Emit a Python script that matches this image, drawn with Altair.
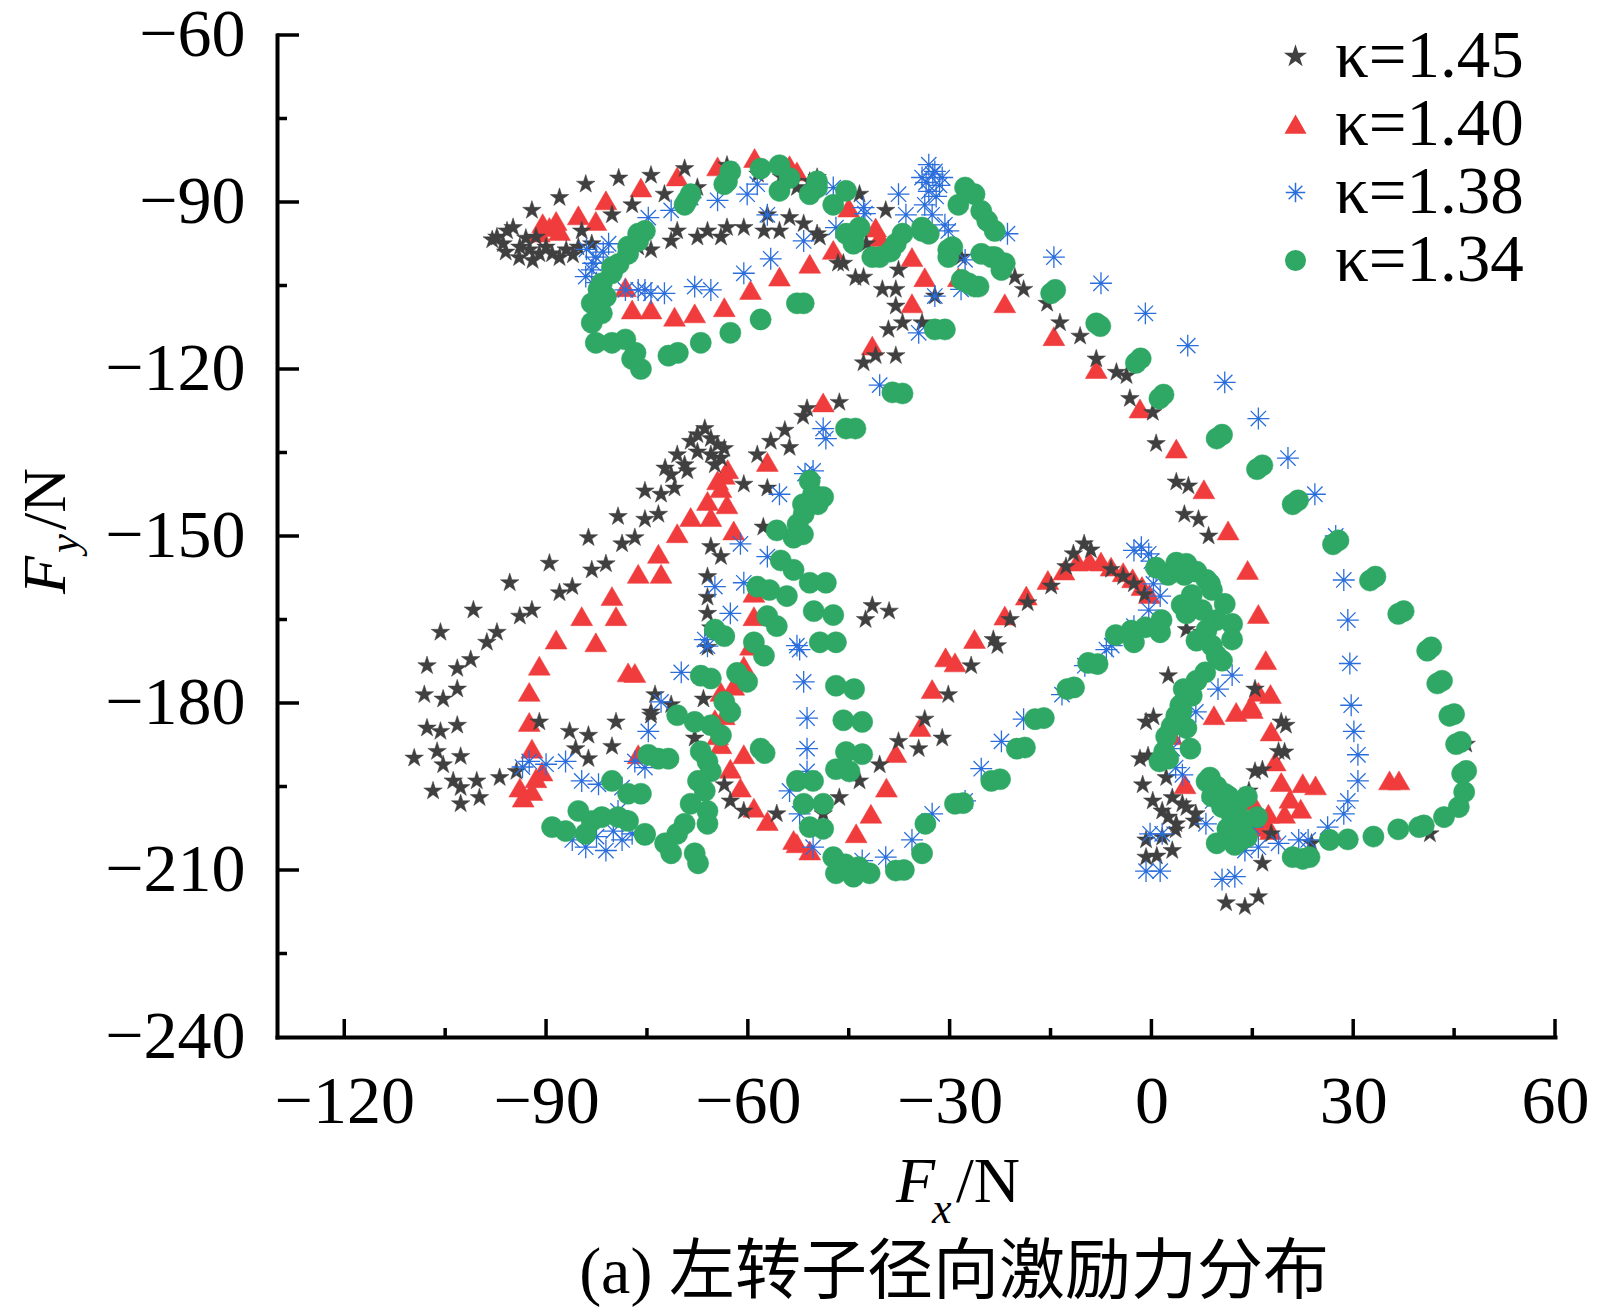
import altair as alt
import pandas as pd

LABELS = ["κ=1.45", "κ=1.40", "κ=1.38", "κ=1.34"]
COLORS = ["#404040", "#f03c3c", "#2a6edc", "#2ea864"]
STAR = ("M0,-1L0.225,-0.309L0.951,-0.309L0.363,0.118L0.588,0.809L0,0.382"
        "L-0.588,0.809L-0.363,0.118L-0.951,-0.309L-0.225,-0.309Z")
ASTERISK = "M-1,0L1,0M0,-1L0,1M-0.7,-0.7L0.7,0.7M-0.7,0.7L0.7,-0.7"
SHAPES = [STAR, "triangle-up", ASTERISK, "circle"]

X_MAJOR = [-120, -90, -60, -30, 0, 30, 60]
X_MINOR = [-105, -75, -45, -15, 15, 45]
Y_LABELS = [-60, -90, -120, -150, -180, -210, -240]
Y_MAJOR = [-60, -90, -120, -150, -180, -210]
Y_MINOR = [-75, -105, -135, -165, -195, -225]

K145 = [(-97.3,-96.3),(-95.8,-95.2),(-94.9,-94.6),(-96.4,-97.5),(-93.9,-98.1),(-92.5,-98.6),(-91.0,-99.3),(-90.0,-98.1),(-89.1,-99.3),(-87.0,-98.6),(-85.2,-98.1),(-83.2,-97.5),(-91.5,-96.3),(-98.0,-96.8),(-96.0,-99.0),(-94.0,-100.0),(-92.0,-100.5),(-88.0,-100.0),(-86.0,-99.5),(-93.0,-96.5),
(-88.0,-89.2),(-92.1,-91.5),(-84.1,-86.8),(-79.2,-85.7),(-74.4,-85.2),(-69.4,-84.0),(-63.1,-83.4),(-58.5,-85.0),(-55.0,-85.5),(-53.2,-86.3),(-50.8,-86.3),(-49.7,-85.6),(-52.7,-87.4),(-43.4,-88.6),(-39.5,-91.5),
(-72.4,-88.6),(-77.2,-90.5),(-67.5,-87.4),(-80.2,-92.3),(-84.7,-95.2),(-74.4,-98.6),(-76.3,-98.1),(-71.4,-97.0),(-70.5,-95.2),(-67.5,-96.3),(-66.0,-95.2),(-64.0,-96.3),(-63.1,-94.6),(-60.6,-94.6),(-57.6,-95.2),(-55.3,-95.2),(-57.1,-92.3),(-53.8,-92.8),(-51.7,-93.9),(-49.7,-95.7),(-49.3,-96.3),
(-42.4,-97.5),(-45.8,-101.0),(-46.6,-101.0),(-42.8,-103.5),(-44.0,-103.6),(-37.6,-102.2),(-40.0,-105.7),(-38.0,-105.7),(-38.0,-108.7),(-34.1,-111.7),(-37.0,-111.7),(-39.1,-112.9),(-38.0,-117.6),(-41.0,-117.6),(-42.8,-118.9),(-46.4,-126.0),(-51.2,-127.1),(-51.8,-128.5),(-54.5,-131.0),(-32.2,-106.9),(-28.3,-99.9),
(-20.3,-103.5),(-19.0,-105.7),(-15.5,-108.2),(-13.6,-111.7),(-10.6,-114.1),(-8.2,-118.2),(-5.2,-120.6),(-3.7,-121.2),(-3.2,-125.3),(0.2,-127.8),(0.7,-133.4),(3.7,-140.3),(5.5,-141.0),(4.9,-146.1),(7.0,-147.0),(8.5,-150.0),
(-66.4,-130.7),(-67.5,-131.8),(-65.5,-132.5),(-64.5,-133.6),(-68.5,-133.0),(-67.5,-134.9),(-65.5,-135.4),(-64.0,-136.0),(-70.5,-135.4),(-69.4,-137.2),(-71.4,-139.0),(-72.3,-137.8),(-69.0,-138.3),(-70.9,-141.4),(-72.9,-142.5),(-75.3,-141.9),(-64.9,-137.2),(-63.5,-134.3),
(-73.3,-146.1),(-75.3,-147.0),(-76.8,-150.3),(-78.7,-151.4),(-79.3,-146.5),(-81.1,-155.0),(-83.2,-156.1),(-83.7,-150.3),(-86.1,-159.1),(-88.0,-160.2),(-89.5,-154.9),(-92.1,-163.3),(-93.9,-164.4),(-95.4,-158.4),(-97.3,-167.3),(-98.8,-169.1),(-100.8,-163.3),(-101.2,-172.2),(-103.2,-173.8),(-105.7,-167.3),(-107.7,-173.3),(-103.2,-177.5),(-105.3,-179.3),(-108.1,-178.5),(-107.7,-184.5),(-105.7,-185.1),(-103.2,-184.0),(-109.6,-189.9),(-106.2,-188.7),(-105.3,-191.1),(-102.7,-189.6),(-103.8,-194.0),(-102.7,-195.2),(-106.8,-195.8),(-102.7,-198.1),(-100.3,-194.0),(-99.9,-197.0),(-96.9,-193.4),(-94.4,-192.3),(-91.0,-183.4),(-86.5,-185.1),(-83.7,-185.8),(-85.6,-188.2),(-83.7,-190.0),(-80.2,-187.8),(-79.6,-183.4),(-74.4,-181.6),(-73.8,-178.5),(-71.4,-180.3),
(-60.6,-140.7),(-57.1,-141.4),(-58.6,-135.4),(-56.6,-133.0),(-53.8,-134.1),(-57.7,-148.4),(-65.5,-151.9),(-64.0,-153.7),(-66.0,-157.3),(-66.0,-161.0),(-66.0,-163.9),(-65.5,-166.5),(-66.0,-170.0),(-66.6,-179.3),(-74.4,-182.2),(-67.9,-186.3),(-63.5,-194.7),(-62.6,-197.6),(-60.6,-199.4),(-55.7,-199.9),(-48.8,-199.9),(-46.4,-197.0),(-43.4,-194.0),(-40.4,-191.1),(-37.6,-186.9),(-34.6,-188.2),(-33.7,-182.9),(-31.1,-186.3),(-30.2,-178.5),(-26.8,-173.3),(-23.5,-168.6),(-22.9,-169.7),(-21.0,-165.0),(-18.4,-162.0),(-14.9,-159.0),(-12.7,-155.5),(-11.6,-153.2),(-10.0,-151.4),(-9.0,-152.5),
(-41.5,-162.5),(-39.0,-163.5),(-42.5,-165.0),
(-6.0,-156.0),(-4.2,-157.3),(-2.6,-158.6),(-1.0,-160.5),
(-0.8,-183.4),(0.3,-182.5),(-1.7,-190.0),(-0.5,-189.5),(-1.3,-194.7),(2.2,-193.4),(0.2,-197.6),(1.6,-199.4),(3.7,-201.7),(4.6,-198.1),(6.6,-199.9),(3.1,-197.0),(-0.8,-204.6),(1.6,-204.1),(-0.8,-207.7),(0.8,-207.5),(3.1,-206.5),(2.5,-200.5),(5.2,-198.8),(6.4,-201.2),(3.6,-202.8),(2.5,-175.1),(5.2,-166.8),(7.5,-167.3),
(11.1,-215.9),(13.9,-216.6),(15.9,-214.8),(14.5,-195.8),(15.4,-192.3),(16.5,-192.0),(18.9,-188.7),(19.8,-188.8),(19.3,-183.4),(20.0,-184.0),(17.8,-203.5),(16.5,-208.8),(23.8,-205.2),(15.4,-177.5),(46.8,-187.4),(41.4,-203.5)]

K140 = [(-88.5,-93.4),(-88.0,-95.2),(-89.5,-94.5),(-90.5,-93.8),(-91.0,-95.5),(-85.2,-92.4),(-82.6,-93.4),(-81.1,-89.7),(-75.9,-87.4),(-70.5,-85.4),(-64.5,-83.6),(-59.0,-82.1),(-53.8,-83.4),(-52.7,-84.5),
(-78.2,-105.3),(-77.2,-109.3),(-74.4,-109.3),(-70.9,-110.6),(-67.9,-110.0),(-63.5,-108.9),(-59.6,-105.8),(-55.3,-103.4),(-50.8,-101.1),
(-45.0,-91.0),(-41.0,-94.6),(-40.4,-96.3),(-47.3,-98.6),(-35.6,-99.9),(-33.7,-103.5),(-28.7,-103.5),(-35.6,-108.2),(-21.8,-108.2),(-41.5,-115.8),(-48.8,-126.0),(-14.5,-114.1),(-8.2,-120.0),(-1.7,-127.1),(3.7,-134.3),(7.8,-141.6),(11.4,-149.0),(14.3,-156.1),(15.9,-164.0),(17.0,-172.3),
(15.9,-178.0),(17.7,-178.4),(14.8,-180.4),(12.6,-181.6),(9.3,-182.2),(15.0,-181.1),(17.8,-185.1),(18.4,-190.5),(19.3,-194.2),(22.5,-194.4),(24.4,-194.8),(20.6,-197.2),(22.2,-199.0),(17.4,-199.9),(19.8,-199.9),(15.9,-202.3),(15.0,-197.6),(16.6,-200.9),(17.7,-202.8),(2.7,-185.1),(2.2,-188.2),(3.0,-185.8),(5.0,-194.6),(35.4,-193.9),(36.8,-193.9),
(-43.9,-203.4),(-41.7,-199.9),(-39.4,-195.2),(-38.0,-189.0),(-34.4,-184.3),(-32.6,-177.5),(-30.6,-171.8),(-29.2,-172.7),(-26.3,-168.5),(-21.8,-164.3),(-18.6,-160.7),(-15.4,-157.9),(-13.0,-156.2),(-11.0,-154.6),(-9.2,-154.5),(-7.5,-154.6),(-6.0,-155.5),(-4.2,-156.5),(-2.8,-157.6),(-1.4,-159.0),(-0.3,-160.4),
(-57.1,-136.7),(-63.0,-138.0),(-63.5,-139.0),(-64.5,-140.0),(-64.0,-141.4),(-66.0,-143.7),(-63.1,-144.3),(-68.5,-146.6),(-65.5,-146.6),(-70.5,-149.5),(-62.1,-149.0),(-73.3,-153.2),(-76.3,-156.8),(-72.9,-156.8),(-80.2,-160.8),(-84.7,-164.4),(-79.6,-164.4),(-88.5,-168.6),(-82.6,-169.1),(-91.0,-173.3),(-77.8,-174.5),(-76.8,-174.6),(-92.5,-178.0),(-92.5,-183.4),(-92.1,-188.2),(-90.6,-192.3),(-91.5,-193.5),(-93.9,-195.2),(-92.1,-195.8),(-93.4,-197.0),(-76.3,-189.2),
(-59.1,-160.2),(-59.1,-164.4),(-59.6,-169.7),(-60.6,-173.3),(-62.1,-176.9),(-64.0,-178.0),(-63.5,-182.2),(-64.9,-182.9),(-64.5,-185.8),(-64.0,-187.4),(-60.6,-189.2),(-62.6,-191.8),(-61.1,-195.2),(-59.1,-198.8),(-57.1,-201.2),(-53.2,-204.6),(-52.7,-205.2),(-50.8,-206.5)]

K138 = [(-82.6,-99.9),(-83.2,-102.2),(-84.1,-103.4),(-80.7,-97.5),(-84.0,-98.5),(-83.0,-101.0),(-81.5,-99.0),(-82.5,-104.5),(-78.2,-105.8),(-76.3,-105.8),(-75.3,-105.8),(-74.4,-106.4),(-72.4,-106.4),(-67.9,-105.2),(-65.5,-105.8),(-60.6,-102.8),(-56.6,-100.2),(-51.7,-97.0),(-74.8,-92.8),(-71.4,-91.5),(-68.5,-89.2),(-64.5,-89.7),(-60.1,-88.6),(-58.6,-86.8),(-57.1,-92.3),
(-32.2,-84.5),(-33.1,-83.3),(-31.1,-85.6),(-34.1,-85.6),(-32.5,-85.0),(-33.5,-86.5),(-31.5,-87.0),(-33.1,-88.1),(-32.0,-89.0),(-33.7,-90.5),(-32.6,-92.3),(-30.7,-94.1),(-30.2,-95.2),(-37.6,-88.6),(-36.5,-92.3),(-42.8,-91.0),(-42.6,-92.1),(-47.3,-87.4),(-46.9,-94.6),(-21.4,-95.7),(-27.7,-100.4),(-28.3,-105.7),(-32.2,-106.9),(-34.6,-113.5),(-40.4,-122.9),(-48.8,-130.7),
(-14.5,-99.9),(-7.5,-104.6),(-0.9,-110.0),(5.4,-115.8),(10.9,-122.4),(15.9,-128.9),(20.3,-136.0),(24.3,-142.5),(27.4,-150.0),(28.6,-157.9),(29.2,-165.1),(29.5,-172.9),(29.7,-180.4),(30.1,-185.1),(30.7,-189.3),(30.7,-194.0),(29.2,-197.6),(28.6,-199.9),(26.2,-202.3),(23.3,-204.6),(21.9,-204.6),(18.9,-205.2),(15.9,-205.9),(13.9,-206.5),(15.0,-202.3),
(-2.6,-152.6),(-1.5,-152.0),(-0.4,-153.2),(0.0,-154.5),(0.7,-156.1),(0.3,-158.6),(1.3,-160.8),(-0.4,-163.3),(-2.6,-166.2),(-5.9,-169.7),(-6.7,-170.4),(-9.9,-173.3),(-13.3,-178.5),(-19.0,-182.9),(-22.3,-186.9),(-25.3,-191.8),(-27.7,-197.6),(-32.6,-199.9),(-35.6,-204.6),(-39.5,-207.7),(-43.0,-208.3),
(6.6,-181.6),(4.2,-185.1),(3.1,-188.2),(4.6,-192.9),(3.6,-191.6),(9.1,-197.6),(8.1,-201.7),(-0.2,-203.5),(1.6,-203.5),(-0.8,-210.2),(1.3,-210.2),(10.5,-211.7),(12.4,-211.2),(9.9,-177.5),(12.0,-175.0),
(-48.4,-132.5),(-50.3,-138.3),(-51.5,-138.8),(-55.3,-142.5),(-57.1,-153.7),(-61.1,-151.4),(-60.6,-158.4),(-64.9,-159.1),(-62.6,-163.9),(-66.4,-168.6),(-66.0,-169.8),(-52.7,-169.7),(-52.3,-170.4),(-51.7,-176.2),(-51.2,-182.7),(-51.2,-188.2),(-51.2,-192.3),(-53.8,-195.8),(-52.3,-199.9),(-50.3,-205.9),
(-69.9,-174.5),(-72.9,-179.8),(-74.8,-185.1),(-75.3,-191.6),(-76.8,-190.5),(-92.5,-190.5),(-93.5,-191.5),(-90.0,-191.0),(-87.1,-190.5),(-84.7,-194.0),(-82.2,-194.6),(-78.7,-195.2),(-79.3,-199.4),(-86.1,-204.6),(-84.1,-205.9),(-81.1,-206.5),(-82.5,-204.0),(-80.0,-203.0),(-78.7,-204.6),(-77.2,-203.5)]

K134 = [(-69.0,-89.7),(-68.5,-88.6),(-69.4,-90.5),(-63.1,-86.3),(-62.6,-84.5),(-63.5,-86.8),(-58.1,-84.0),(-55.3,-83.4),(-53.8,-85.7),(-55.3,-88.0),(-49.7,-87.4),
(-76.3,-95.7),(-75.3,-95.2),(-76.3,-97.0),(-77.8,-98.0),(-77.8,-99.3),(-79.2,-101.1),(-80.2,-101.7),(-80.2,-102.8),(-81.7,-104.6),(-82.2,-105.7),(-81.1,-107.0),(-83.2,-108.2),(-81.7,-110.0),(-83.2,-111.7),(-82.6,-115.3),(-80.2,-115.3),(-78.2,-114.7),(-76.7,-117.1),(-77.2,-118.2),(-75.9,-120.0),(-71.8,-117.6),(-70.4,-117.1),(-67.0,-115.3),(-62.6,-113.5),(-58.1,-111.1),(-52.7,-108.2),(-51.7,-108.2),
(-49.7,-86.3),(-50.8,-88.6),(-47.3,-90.5),(-45.4,-88.0),(-43.4,-94.6),(-44.3,-96.3),(-45.4,-95.7),(-44.3,-97.5),(-41.5,-99.9),(-40.4,-99.9),(-38.0,-97.5),(-38.8,-98.9),(-37.0,-95.7),(-34.1,-95.2),(-34.1,-94.6),(-33.1,-95.7),(-30.2,-98.6),(-29.6,-98.1),(-30.2,-99.9),(-27.2,-104.6),(-28.2,-104.0),(-26.3,-105.2),(-25.7,-105.2),(-23.8,-99.9),(-25.3,-99.3),(-23.3,-99.9),(-21.8,-101.0),(-22.3,-102.2),(-27.7,-87.4),(-26.3,-88.6),(-28.7,-90.5),(-25.3,-91.6),(-24.4,-93.4),(-23.3,-95.2),(-32.2,-112.9),(-30.7,-112.9),(-45.4,-130.7),(-44.0,-130.7),(-38.5,-124.2),(-37.0,-124.4),
(-14.9,-106.4),(-14.3,-105.8),(-8.2,-111.8),(-7.6,-112.3),(-2.3,-118.9),(-1.6,-118.1),(1.2,-125.3),(1.8,-124.6),(9.7,-132.5),(10.5,-131.8),(15.7,-138.0),(16.5,-137.3),(21.0,-144.3),(21.8,-143.6),(27.0,-151.5),(27.8,-150.8),(32.5,-158.0),(33.3,-157.3),(36.7,-164.0),(37.5,-163.5),(41.0,-170.6),(41.6,-170.0),(42.5,-176.5),(43.2,-176.0),(44.3,-182.3),(45.0,-182.0),(45.3,-187.4),(46.0,-187.0),(46.2,-192.7),(46.8,-192.2),(46.5,-196.0),(45.7,-198.7),(43.5,-200.5),(40.5,-202.0),(39.8,-202.3),(36.7,-202.7),(33.0,-204.0),(29.2,-204.5),(26.5,-204.6),
(-50.8,-140.1),(-50.3,-142.5),(-48.8,-143.0),(-51.8,-144.3),(-49.6,-144.3),(-51.7,-146.1),(-52.6,-147.9),(-51.8,-149.7),(-53.2,-150.3),(-55.7,-149.0),(-55.1,-154.4),(-53.2,-156.1),(-50.8,-158.4),(-48.4,-158.4),(-58.6,-159.1),(-56.8,-159.7),(-54.2,-160.8),(-50.2,-163.5),(-47.3,-164.2),(-57.1,-164.4),(-55.7,-166.2),(-49.3,-169.1),(-46.9,-169.1),(-59.1,-169.1),(-57.6,-171.5),(-46.9,-176.9),(-44.2,-177.5),(-64.9,-166.8),(-63.5,-168.0),
(-67.0,-175.1),(-65.5,-175.6),(-61.6,-174.6),(-60.1,-176.2),(-63.5,-179.8),(-62.6,-181.6),(-70.5,-182.2),(-67.9,-183.4),(-65.5,-184.0),(-64.0,-185.8),(-67.0,-188.7),(-66.0,-190.5),(-65.5,-192.3),(-67.4,-194.0),(-66.4,-195.8),(-68.5,-198.1),(-66.0,-199.4),(-69.4,-201.7),(-66.0,-201.7),(-70.5,-203.5),(-72.3,-205.2),(-71.4,-207.0),(-67.9,-207.0),(-67.4,-208.8),(-58.1,-188.2),(-57.5,-189.0),(-73.3,-190.0),(-71.8,-190.0),(-74.8,-189.3),(-75.3,-203.7),(-75.9,-196.3),
(-85.2,-199.4),(-89.1,-202.3),(-87.1,-203.0),(-83.2,-201.2),(-81.7,-200.5),(-79.3,-200.5),(-77.8,-201.2),(-75.3,-203.5),(-84.1,-203.5),(-80.2,-194.0),(-77.8,-196.3),
(-45.8,-183.1),(-43.0,-183.4),(-45.4,-188.8),(-43.0,-189.2),(-46.9,-191.9),(-44.9,-192.3),(-52.7,-194.0),(-50.3,-194.0),(-51.7,-198.1),(-48.8,-198.1),(-50.8,-202.3),(-48.8,-202.6),(-47.3,-207.7),(-46.9,-210.6),(-44.3,-211.2),(-41.9,-210.6),(-45.5,-209.0),(-43.5,-209.5),(-38.0,-210.1),(-36.8,-210.0),
(-34.1,-207.0),(-33.6,-201.7),(-29.2,-198.1),(-28.0,-198.0),(-23.8,-194.0),(-22.5,-193.7),(-20.0,-188.2),(-18.8,-188.0),(-17.3,-182.9),(-16.0,-182.7),(-12.5,-177.5),(-11.5,-177.2),(-9.4,-172.8),(-8.0,-173.0),(-5.3,-167.8),(-3.0,-167.0),(-2.6,-169.1),(-0.9,-166.4),(1.3,-167.3),(1.5,-165.1),
(0.7,-155.7),(2.5,-157.0),(3.7,-154.8),(5.2,-155.0),(4.9,-157.0),(6.7,-156.4),(8.2,-157.9),(8.7,-158.6),(9.0,-159.7),(6.0,-160.6),(4.5,-162.4),(5.2,-163.9),(7.5,-163.3),(10.9,-162.2),(9.7,-165.1),(12.0,-165.8),(8.2,-166.9),(12.0,-168.6),(6.7,-168.8),(9.0,-169.7),(9.7,-171.5),(10.5,-172.4),(8.0,-174.5),(6.7,-176.0),(4.8,-177.5),(6.0,-178.7),(4.3,-180.4),(4.5,-181.5),(3.7,-182.3),(5.2,-184.5),(3.0,-184.2),(2.2,-186.0),(5.8,-188.2),(1.9,-188.7),(1.2,-190.5),(2.5,-190.0),
(8.2,-194.1),(9.7,-195.0),(8.7,-193.4),(9.0,-196.8),(11.5,-196.8),(10.9,-196.3),(10.5,-198.7),(12.7,-198.7),(12.6,-199.4),(12.0,-200.5),(13.8,-201.2),(13.5,-201.9),(11.3,-202.6),(15.7,-200.5),(14.2,-196.8),(14.2,-204.1),(13.2,-204.7),(12.4,-205.5),(9.7,-205.2),(21.0,-207.7),(22.5,-208.0),(23.5,-207.7)]

W, H = 1278, 1002
SERIF = "Liberation Serif"
CJK = "'Liberation Serif', 'Noto Sans CJK SC'"

rows = []
for lab, pts in zip(LABELS, [K145, K140, K138, K134]):
    rows += [{"Fx": x, "Fy": y, "k": lab} for x, y in pts]
df = pd.DataFrame(rows)

xs = alt.Scale(domain=[-130, 60], nice=False, zero=False)
ys = alt.Scale(domain=[-240, -60], nice=False, zero=False)

x_axis = alt.Axis(values=X_MAJOR, format="d", ticks=False, tickSize=0, grid=False,
                  domainColor="black", domainWidth=4, domainCap="square",
                  labelFont=SERIF, labelFontSize=68, labelColor="black", labelPadding=31,
                  labelFlush=False, labelOverlap=False, labelBound=False, title=None)
y_axis = alt.Axis(values=Y_LABELS, format="d", ticks=False, tickSize=0, grid=False,
                  domainColor="black", domainWidth=4, domainCap="square",
                  labelFont=SERIF, labelFontSize=68, labelColor="black", labelPadding=32,
                  labelBaseline="middle", labelFlush=False, labelOverlap=False, labelBound=False,
                  title=None)

legend = alt.Legend(title=None, orient="none", legendX=985, legendY=-12, labelFont=SERIF,
                    labelFontSize=67, labelColor="black", symbolSize=380, symbolStrokeWidth=1.5,
                    rowPadding=0, labelOffset=6, padding=0, labelLimit=500)

X_ENC = alt.X("Fx:Q", scale=xs, axis=x_axis)
Y_ENC = alt.Y("Fy:Q", scale=ys, axis=y_axis)

enc = dict(
    x=X_ENC,
    y=Y_ENC,
    color=alt.Color("k:N", scale=alt.Scale(domain=LABELS, range=COLORS), legend=legend),
    stroke=alt.Stroke("k:N", scale=alt.Scale(domain=LABELS, range=COLORS), legend=legend),
    shape=alt.Shape("k:N", scale=alt.Scale(domain=LABELS, range=SHAPES), legend=legend),
)


def series(lab, size, sw):
    return (alt.Chart(df).transform_filter(alt.datum.k == lab)
            .mark_point(filled=True, size=size, strokeWidth=sw, opacity=1)
            .encode(**enc))


def xticks(vals, length):
    return alt.Chart(pd.DataFrame({"Fx": vals})).mark_rule(color="black", strokeWidth=3.5).encode(
        x=X_ENC, y=alt.value(H), y2=alt.value(H - length))


def yticks(vals, length):
    return alt.Chart(pd.DataFrame({"Fy": vals})).mark_rule(color="black", strokeWidth=3.5).encode(
        y=Y_ENC, x=alt.value(0), x2=alt.value(length))


one = pd.DataFrame({"a": [0]})


def txt(s, x, y, size, style="normal", angle=0, align="left", baseline="alphabetic", font=SERIF):
    return alt.Chart(one).mark_text(text=s, fontSize=size, fontStyle=style, font=font, angle=angle,
                                    align=align, baseline=baseline, color="black").encode(
        x=alt.value(x), y=alt.value(y))


layers = [
    series(LABELS[1], 480, 0.5),
    series(LABELS[0], 380, 0.5),
    series(LABELS[2], 480, 1.3),
    series(LABELS[3], 450, 0.5),
    xticks(X_MAJOR, 18), xticks(X_MINOR, 9),
    yticks(Y_MAJOR, 22), yticks(Y_MINOR, 10),
    txt("F", 619, 1167, 64, "italic"),
    txt("x", 655, 1188, 44, "italic"),
    txt("/N", 679, 1167, 64),
    txt("F", -212, 559, 62, "italic", angle=270),
    txt("y", -199, 518, 43, "italic", angle=270),
    txt("/N", -212, 495, 62, angle=270),
    txt("(a) 左转子径向激励力分布", 677, 1238, 66, align="center", baseline="middle", font=CJK),
]

chart = alt.layer(*layers).properties(
    width=W, height=H,
    padding={"left": 269, "top": 27, "right": 37, "bottom": 276},
    autosize=alt.AutoSizeParams(type="none"),
).configure_view(stroke=None)

chart.save("out.html", embed_options={"renderer": "svg", "actions": False})
